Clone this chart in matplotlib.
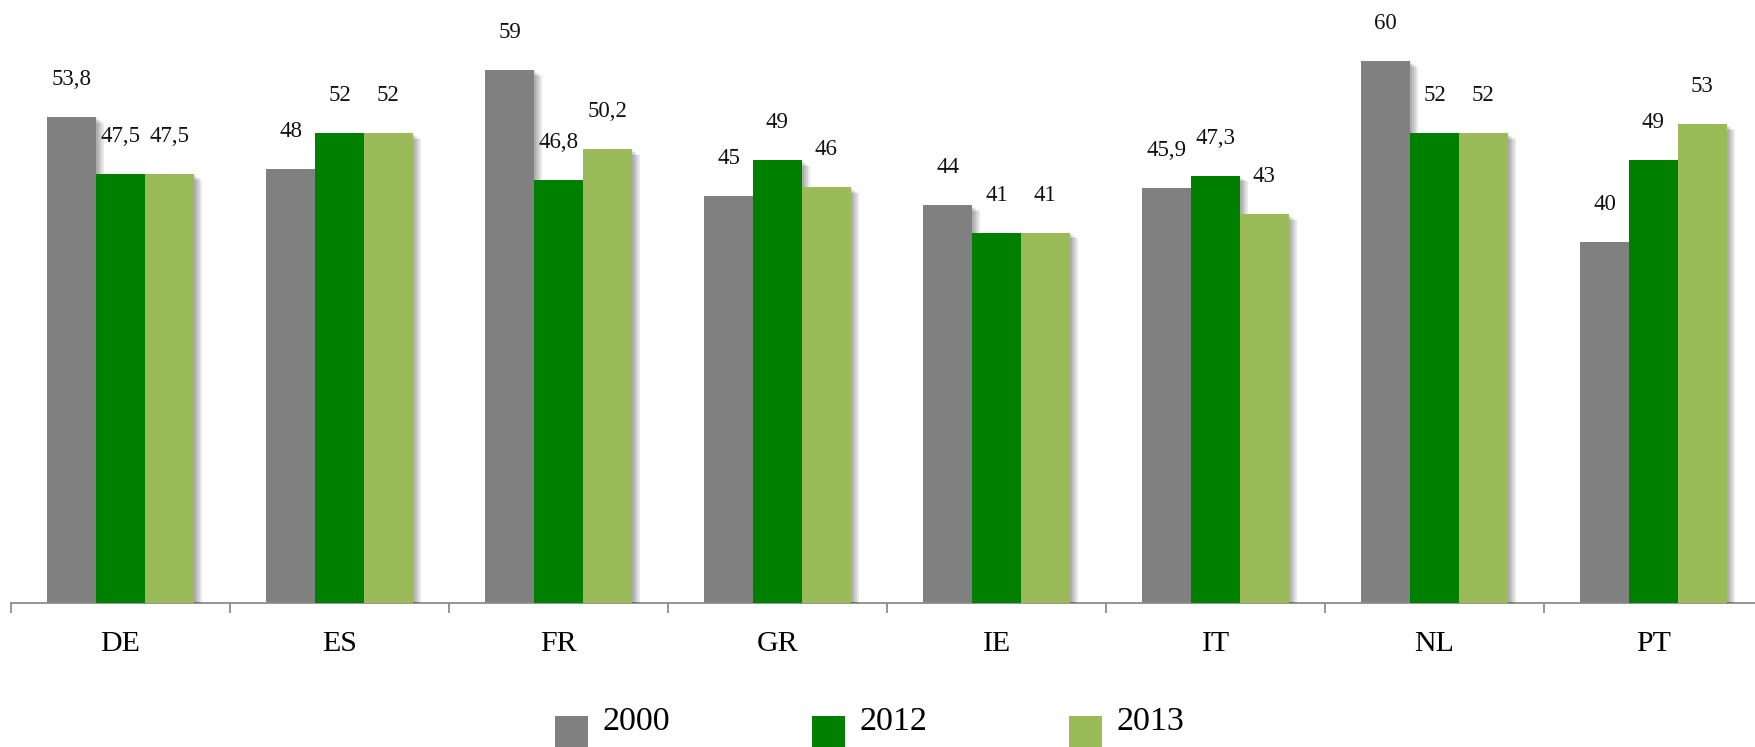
import matplotlib
matplotlib.use('Agg')
import matplotlib.pyplot as plt
import matplotlib.patheffects as pe
from matplotlib.patches import Rectangle
import numpy as np

plt.rcParams['font.family'] = ['Liberation Serif', 'DejaVu Serif']

countries = ['DE', 'ES', 'FR', 'GR', 'IE', 'IT', 'NL', 'PT']
years = ['2000', '2012', '2013']
v2000 = [53.8, 48, 59, 45, 44, 45.9, 60, 40]
v2012 = [47.5, 52, 46.8, 49, 41, 47.3, 52, 49]
v2013 = [47.5, 52, 50.2, 46, 41, 43, 52, 53]
colors = ['#808080', '#008000', '#9bbb59']

W, H = 1756, 747
fig = plt.figure(figsize=(W / 100, H / 100), dpi=100)
# axes runs from x=11 px to one category past the right edge (chart is cropped)
ax = fig.add_axes([11 / W, (H - 603) / H, 1752 / W, 603 / H])

x = np.arange(len(countries))
w = 0.2224
shadow = [pe.SimplePatchShadow(offset=(d, -d * 0.7), shadow_rgbFace='black', alpha=0.09)
          for d in (1.5, 3, 4.5, 6)] + [pe.Normal()]

for j, vals in enumerate([v2000, v2012, v2013]):
    bars = ax.bar(x + (j - 1) * w, vals, width=w, color=colors[j], zorder=2 + j)
    for b, v in zip(bars, vals):
        b.set_path_effects(shadow)
        ax.annotate(f'{v:g}'.replace('.', ','), (b.get_x() + b.get_width() / 2, v),
                    xytext=(0, 27), textcoords='offset points',
                    ha='center', va='center', fontsize=16.5, color='#111111')

ax.set_xlim(-0.5, 7.5)
ax.set_ylim(0, 603 / 9.035)
for s in ['top', 'right', 'left']:
    ax.spines[s].set_visible(False)
ax.spines['bottom'].set_color('#8c8c8c')
ax.spines['bottom'].set_linewidth(1.3)
ax.set_yticks([])
ax.set_xticks(np.arange(-0.5, 8, 1))
ax.set_xticklabels([])
ax.tick_params(axis='x', which='major', length=7.5, width=1.3, color='#8c8c8c', direction='out')
ax.set_xticks(x, minor=True)
ax.set_xticklabels(countries, minor=True, fontsize=21.5)
ax.tick_params(axis='x', which='minor', length=0, pad=20)

# legend drawn by hand to keep the square below the text, as in the original
for j, yr in enumerate(years):
    x0 = 555 + j * 257
    fig.add_artist(Rectangle((x0 / W, 0 / H), 33 / W, 31 / H, transform=fig.transFigure,
                             facecolor=colors[j], edgecolor='none'))
    fig.text((x0 + 48) / W, (H - 730) / H, yr, fontsize=24.5, va='baseline', ha='left')

fig.savefig('out.png', dpi=100)
